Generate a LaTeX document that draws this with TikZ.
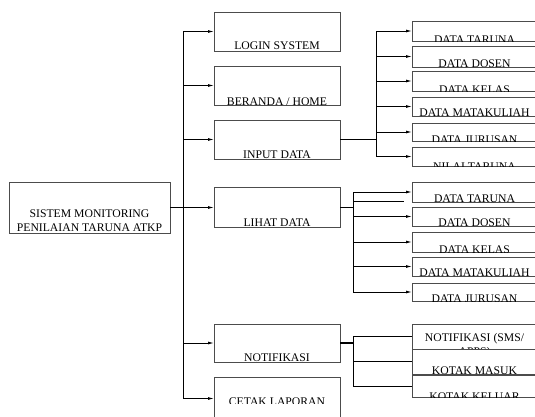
\documentclass[tikz,border=0pt]{standalone}
\usepackage{fontspec}
\setmainfont{Liberation Serif}
\usetikzlibrary{arrows.meta,calc}
\tikzset{
  boxst/.style={draw=black!70, line width=0.8pt, inner sep=0pt, outer sep=0pt, rectangle},
  txt/.style={inner sep=0pt, outer sep=0pt, font=\fontsize{11.7}{13}\selectfont, text=black},
  wire/.style={draw=black, line width=0.9pt},
  arr/.style={wire, -{Latex[length=6pt,width=3pt]}},
}
% name, x1, y1, x2, y2, baseline, clip bottom, text
\newcommand\tbox[8]{%
  \node[boxst, anchor=north west, minimum width={(#4-#2)*1pt}, minimum height={(#5-#3)*1pt}] (#1) at (#2,#3) {};
  \begin{scope}
    \clip (#2,#3) rectangle (#4,#7);
    \node[txt, anchor=base] (#1-t) at ({(#2+#4)/2},#6) {#8};
  \end{scope}}
\begin{document}
\begin{tikzpicture}[x=1pt,y=-1pt]
\useasboundingbox (0,0) rectangle (535,416);
\clip (0,0) rectangle (535,416);
\fill[white] (0,0) rectangle (535,416);

% main box
\node[boxst, anchor=north west, minimum width=161pt, minimum height=51pt] (main) at (9,182) {};
\node[txt, anchor=base] (main-t1) at (89.5,217) {SISTEM MONITORING};
\node[txt, anchor=base] (main-t2) at (89.5,231) {PENILAIAN TARUNA ATKP};

% level 1
\tbox{login}{214}{12}{340}{51}{49}{51}{LOGIN SYSTEM}
\tbox{beranda}{214}{66}{340}{105}{105}{106}{BERANDA / HOME}
\tbox{input}{214}{120}{340}{159}{158}{159}{INPUT DATA}
\tbox{lihat}{214}{187}{340}{227}{226}{227}{LIHAT DATA}
\tbox{notif}{214}{324}{340}{362}{361}{362}{NOTIFIKASI}
\tbox{cetak}{214}{377}{340}{420}{405}{403}{CETAK LAPORAN}

% input data children
\tbox{it1}{412}{21}{537}{41}{43}{41}{DATA TARUNA}
\tbox{it2}{412}{46}{537}{67}{67}{67}{DATA DOSEN}
\tbox{it3}{412}{71}{537}{91}{93}{91}{DATA KELAS}
\tbox{it4}{412}{97}{537}{116}{116.5}{116}{DATA MATAKULIAH}
\tbox{it5}{412}{123}{537}{141}{143}{141}{DATA JURUSAN}
\tbox{it6}{412}{147}{537}{166}{170}{166}{NILAI TARUNA}

% lihat data children
\tbox{lt1}{412}{182}{537}{202}{202.5}{202}{DATA TARUNA}
\tbox{lt2}{412}{207}{537}{226}{226}{226}{DATA DOSEN}
\tbox{lt3}{412}{232}{537}{252}{253}{252}{DATA KELAS}
\tbox{lt4}{412}{257}{537}{276}{276.5}{276}{DATA MATAKULIAH}
\tbox{lt5}{412}{283}{537}{301}{302}{301}{DATA JURUSAN}

% notifikasi children
\node[boxst, anchor=north west, minimum width=125pt, minimum height=25pt] (n1) at (412,324) {};
\begin{scope}
  \clip (412,324) rectangle (537,349);
  \node[txt, anchor=base] (n1-t) at (474.5,341) {NOTIFIKASI (SMS/};
  \node[txt, anchor=base] (n1-t2) at (474.5,355.5) {APPS)};
\end{scope}
\tbox{n2}{412}{349}{537}{374}{374}{374}{KOTAK MASUK}
\tbox{n3}{412}{375}{537}{397}{400}{397}{KOTAK KELUAR}

% trunk from main
\coordinate (T) at (183,0);
\draw[arr] (main.east) -- (main.east -| lihat.west);
\draw[wire] (T |- login.west) -- (T |- cetak.west);
\foreach \b in {login,beranda,input,notif,cetak}
  \draw[arr] (T |- \b.west) -- (\b.west);

% input sub
\coordinate (I) at (376,0);
\draw[wire, line width=1.4pt] (input.east) -- (I |- input.east);
\draw[wire] (I |- it1.west) -- (I |- it6.west);
\foreach \b in {it1,it2,it3,it4,it5,it6}
  \draw[arr] (I |- \b.west) -- (\b.west);

% lihat sub
\coordinate (L) at (353,0);
\coordinate (Lx) at (404,201);
\draw[wire] (lihat.east) -- (L |- lihat.east);
\draw[wire] (L |- lt1.west) -- (L |- lt5.west);
\foreach \b in {lt1,lt2,lt3,lt4,lt5}
  \draw[arr] (L |- \b.west) -- (\b.west);
\draw[wire] (L |- Lx) -- (Lx);

% notifikasi sub
\coordinate (N) at (353,0);
\draw[wire, line width=2pt] (notif.east) -- (N |- notif.east);
\draw[wire] (N |- n1.west) -- (N |- n3.west);
\foreach \b in {n1,n2,n3}
  \draw[wire] (N |- \b.west) -- (\b.west);
\end{tikzpicture}
\end{document}
